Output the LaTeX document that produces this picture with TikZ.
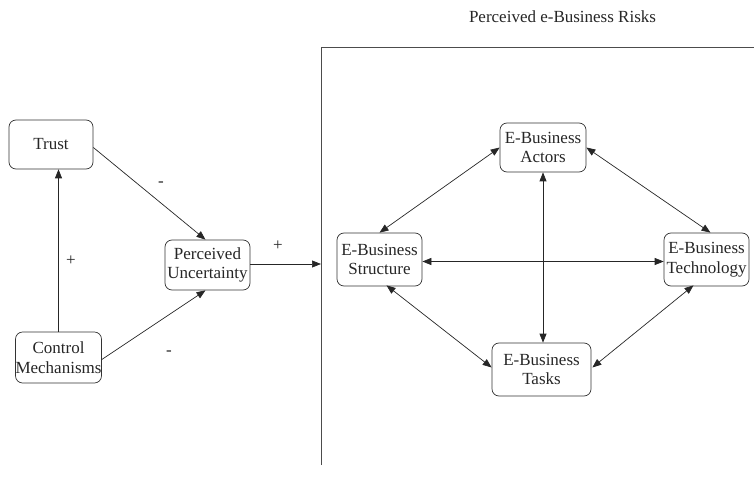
\documentclass[tikz,border=0pt]{standalone}
\usepackage{fontspec}
\setmainfont{Liberation Serif}
\usetikzlibrary{arrows.meta,calc}
\begin{document}
\begin{tikzpicture}[x=1pt,y=-1pt,
  every node/.style={font=\fontsize{17}{19.5}\selectfont, text=black!85},
  box/.style={draw=black!80, rounded corners=7pt, line width=0.7pt, align=center, inner sep=0pt},
  conn/.style={line width=0.7pt, draw=black!85, -{Triangle[length=9pt,width=7pt]}},
  bi/.style={line width=0.7pt, draw=black!85, {Triangle[length=9pt,width=7pt]}-{Triangle[length=9pt,width=7pt]}},
  frameline/.style={line width=1pt, draw=black!70}]
\useasboundingbox (0,0) rectangle (754,494);
% frame
\coordinate (fl) at (321,48);
\coordinate (fb) at (321,465);
\coordinate (fr) at (754,48);
\draw[frameline] (fb) -- (fl) -- (fr);
\node (title) at (562.5,17) {Perceived e-Business Risks};
% left nodes
\node[box, minimum width=84pt, minimum height=49pt] (trust) at (51,144.5) {Trust};
\node[box, minimum width=85pt, minimum height=51pt] (ctrl) at (58.5,357.5) {Control\\Mechanisms};
\node[box, minimum width=85pt, minimum height=50pt] (pu) at (207.5,265) {Perceived\\Uncertainty};
% right nodes
\node[box, minimum width=86pt, minimum height=49pt] (actors) at (543,147.5) {E-Business\\Actors};
\node[box, minimum width=85pt, minimum height=53pt] (struct) at (379.5,259.5) {E-Business\\Structure};
\node[box, minimum width=85pt, minimum height=53pt] (tech) at (706.5,259.5) {E-Business\\Technology};
\node[box, minimum width=99pt, minimum height=53pt] (tasks) at (541.5,369.5) {E-Business\\Tasks};
% left connectors
\draw[conn] (ctrl.north) -- (ctrl.north |- trust.south);
\draw[conn] ($(trust.east)+(0,3)$) -- ($(pu.north)+(-2,0)$);
\draw[conn] ($(ctrl.east)+(0,2)$) -- ($(pu.south)+(-2,0)$);
\coordinate (fin) at (321,264);
\draw[conn] (pu.east |- fin) -- (fin);
\node (l1) at (161,184) {-};
\node (l2) at (71,261) {+};
\node (l3) at (169,353) {-};
\node (l4) at (278,246) {+};
% right connectors
\draw[bi] (actors.west) -- (struct.north);
\draw[bi] (actors.east) -- ($(tech.north)+(4,0)$);
\draw[bi] (actors.south) -- (actors.south |- tasks.north);
\draw[bi] ($(struct.east)+(0,2)$) -- ($(tech.west)+(0,2)$);
\draw[bi] ($(struct.south)+(7,-1)$) -- ($(tasks.west)+(0,-2)$);
\draw[bi] ($(tech.south)+(-13,-1)$) -- ($(tasks.east)+(1,-2)$);
\end{tikzpicture}
\end{document}
